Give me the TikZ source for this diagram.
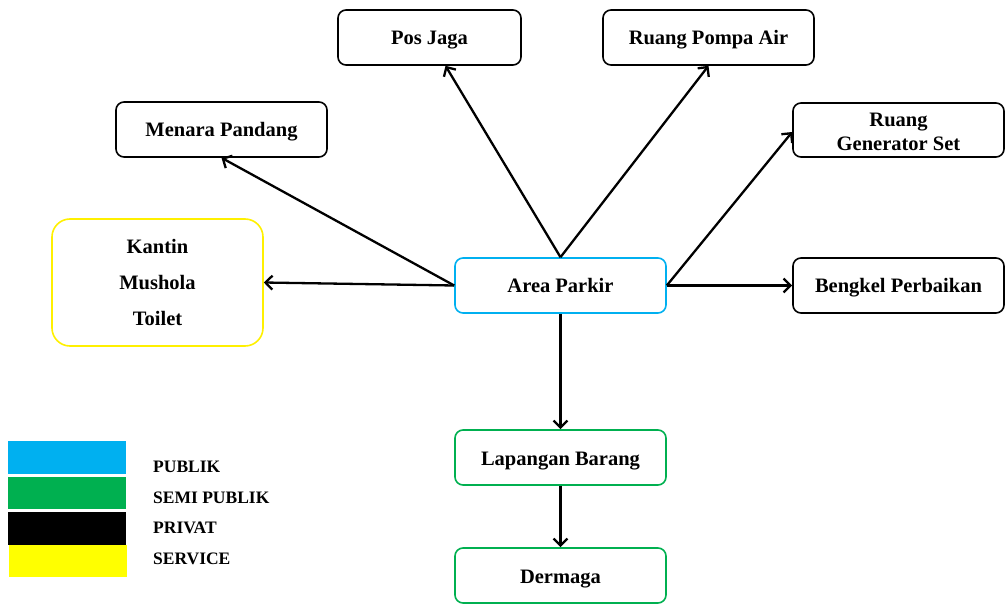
\documentclass[tikz,border=0pt]{standalone}
\usepackage{fontspec}
\setmainfont{Liberation Serif}
\usetikzlibrary{arrows.meta}
\definecolor{publik}{RGB}{0,176,240}
\definecolor{semipublik}{RGB}{0,176,80}
\definecolor{service}{RGB}{255,255,0}
\definecolor{serviceline}{RGB}{255,240,0}
\tikzset{
  room/.style={draw=black, line width=1.6pt, rounded corners=8pt,
    minimum width=211pt, minimum height=55pt, inner sep=0pt,
    align=center, font=\fontsize{20.5}{24}\selectfont\bfseries},
  oneline/.style={text height=15pt, text depth=0pt},
  link/.style={line width=2.3pt, -{Straight Barb[length=7pt,width=14pt,line width=2.3pt]}},
  legtext/.style={anchor=west, inner sep=0pt, font=\fontsize{17.5}{20}\selectfont\bfseries}
}
\begin{document}
\begin{tikzpicture}[x=1pt,y=-1pt]
\useasboundingbox (0,0) rectangle (1005,604);

% rooms
\node[room, oneline, minimum width=183pt] (pj) at (429.5,37.5) {Pos Jaga};
\node[room, oneline] (rpa) at (708.5,37.5) {Ruang Pompa Air};
\node[room, oneline] (mp) at (221.5,129.5) {Menara Pandang};
\node[room, minimum height=54pt] (gen) at (898.5,130) {\rule{0pt}{17pt}Ruang\\Generator Set};
\node[room, draw=serviceline, minimum height=127pt, rounded corners=18pt] (kmt) at (157.5,282.5)
  {Kantin\\[12pt]Mushola\\[12pt]Toilet};
\node[room, oneline, draw=publik] (ap) at (560.5,285.5) {Area Parkir};
\node[room, oneline] (bk) at (898.5,285.5) {Bengkel Perbaikan};
\node[room, oneline, draw=semipublik] (lb) at (560.5,457.5) {Lapangan Barang};
\node[room, oneline, draw=semipublik] (dm) at (560.5,575.5) {Dermaga};

% connections
\draw[link] (ap.north) -- ([xshift=16pt]pj.south);
\draw[link] (ap.north) -- (rpa.south);
\draw[link] (ap.west) -- (mp.south);
\draw[link] (ap.west) -- (kmt.east);
\draw[link] (ap.east) -- ([yshift=-2pt]gen.west);
\draw[link] (ap.east) -- (bk.west);
\draw[link] (ap.south) -- (lb.north);
\draw[link] (lb.south) -- (dm.north);

% legend
\fill[publik] (8,441) rectangle (126,474);
\fill[semipublik] (8,476.5) rectangle (126,509);
\fill[black] (8,512) rectangle (126,545);
\fill[service] (9,545) rectangle (127,577);
\node[legtext] (l1) at (153,467) {PUBLIK};
\node[legtext] (l2) at (153,497.5) {SEMI PUBLIK};
\node[legtext] (l3) at (153,528) {PRIVAT};
\node[legtext] (l4) at (153,559) {SERVICE};
\end{tikzpicture}
\end{document}
